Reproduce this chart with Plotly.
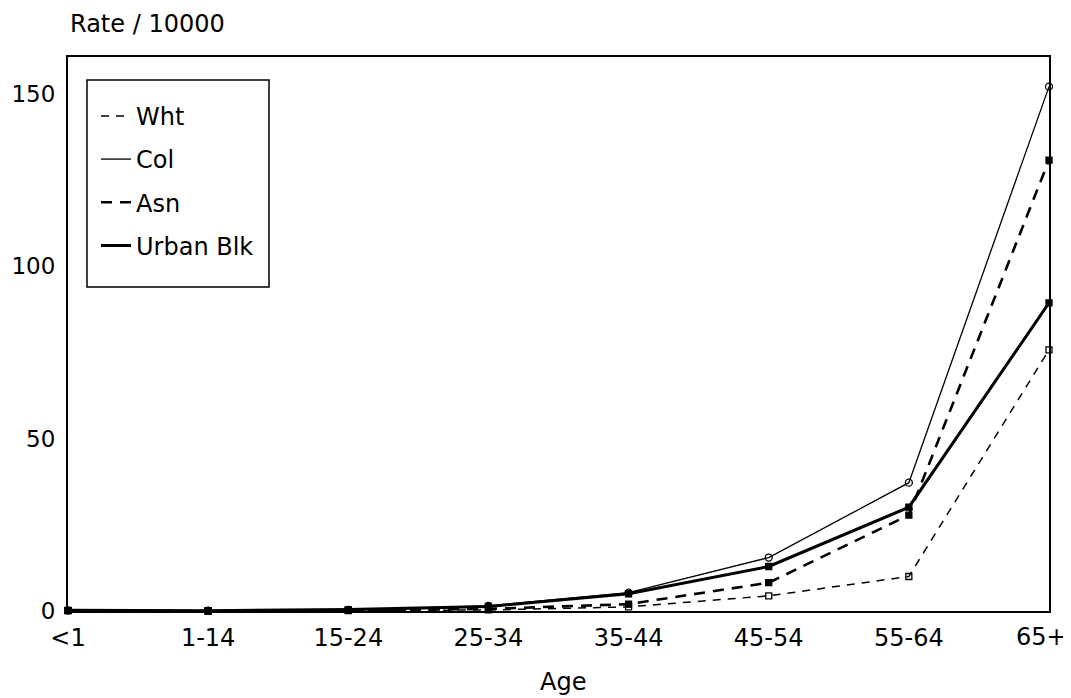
import plotly.graph_objects as go

categories = ["<1", "1-14", "15-24", "25-34", "35-44", "45-54", "55-64", "65+"]
wht = [0.1, 0.0, 0.1, 0.3, 1.2, 4.4, 10.0, 75.7]
col = [0.2, 0.1, 0.3, 1.5, 5.3, 15.5, 37.2, 152.0]
asn = [0.1, 0.0, 0.2, 0.6, 2.0, 8.2, 27.8, 130.7]
urban = [0.2, 0.1, 0.4, 1.3, 5.0, 12.9, 30.1, 89.3]

series = [
    ("Wht", wht, dict(width=1.5, dash="8px,7px"), dict(symbol="square-open", size=6)),
    ("Col", col, dict(width=1.3), dict(symbol="circle-open", size=7)),
    ("Asn", asn, dict(width=2.6, dash="11px,8px"), dict(symbol="square", size=6)),
    ("Urban Blk", urban, dict(width=3), dict(symbol="square", size=6)),
]

# page body has an 8px default margin; size the figure so the frame lands where the reference has it
W, H = 1063, 690
ML, MR, MT, MB = 60, 22, 49, 87
PW, PH = W - ML - MR, H - MT - MB          # 981 x 554 plot area
LEFT, BOTTOM = 68, 611                      # plot-area origin on the page


def px(xp):
    return (xp - LEFT) / PW


def py(yp):
    return (BOTTOM - yp) / PH


# last category label sits a little left of its tick (as in the reference), so draw it as text
tick_labels = categories[:-1] + [""]

FONT = "DejaVu Sans, Liberation Sans, sans-serif"
fig = go.Figure()
for name, vals, line, marker in series:
    fig.add_trace(go.Scatter(
        x=categories, y=vals, mode="lines", name=name,
        line=dict(color="black", **line), legendgroup=name, cliponaxis=False))
    fig.add_trace(go.Scatter(
        x=categories, y=vals, mode="markers", showlegend=False,
        marker=dict(color="black", line=dict(color="black", width=1.3), **marker),
        cliponaxis=False, hoverinfo="skip"))

fig.update_layout(
    width=W, height=H,
    margin=dict(l=ML, r=MR, t=MT, b=MB),
    paper_bgcolor="white", plot_bgcolor="white",
    font=dict(family=FONT, size=24, color="black"),
    showlegend=True,
    legend=dict(x=px(96), y=py(86), xanchor="left", yanchor="top",
                borderwidth=0, bgcolor="rgba(0,0,0,0)",
                font=dict(size=24), tracegroupgap=9, itemwidth=30,
                traceorder="grouped",
                title=dict(text=" ", font=dict(size=6))),
    xaxis=dict(type="category", range=[0, 7], showgrid=False, zeroline=False,
               automargin=False, tickmode="array", tickvals=categories,
               ticktext=tick_labels,
               showline=True, mirror=True, linecolor="black", linewidth=2,
               ticks="", ticklabelstandoff=4, tickfont=dict(size=24)),
    yaxis=dict(range=[0, 160.6], tickvals=[0, 50, 100, 150], showgrid=False,
               automargin=False,
               zeroline=False, showline=True, mirror=True, linecolor="black",
               linewidth=2, ticks="", ticklabelstandoff=6, tickfont=dict(size=23)),
    shapes=[
        dict(type="rect", xref="paper", yref="paper",
             x0=px(87), x1=px(269), y0=py(287), y1=py(80),
             line=dict(color="black", width=1.5), fillcolor="white", layer="above"),
    ],
    annotations=[
        dict(text="Rate / 10000", xref="paper", yref="paper", x=0, y=py(24),
             xanchor="left", yanchor="middle", showarrow=False, font=dict(size=24)),
        dict(text="Age", xref="paper", yref="paper", x=px(563), y=py(682),
             xanchor="center", yanchor="middle", showarrow=False, font=dict(size=24)),
        dict(text=categories[-1], xref="x", yref="y", x=categories[-1], y=0,
             xanchor="center", yanchor="middle", xshift=-8, yshift=-26,
             showarrow=False, font=dict(size=24)),
    ],
)

fig.write_html("out.html")
